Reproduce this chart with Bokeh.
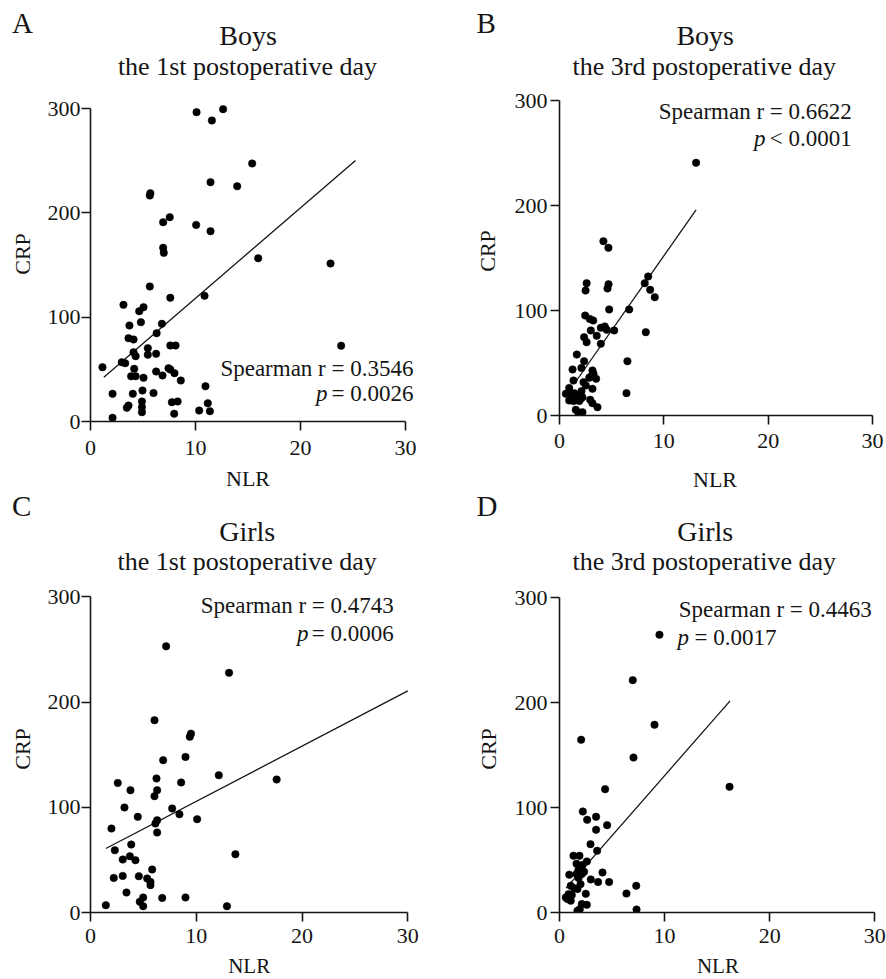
import numpy as np
from bokeh.plotting import figure
from bokeh.models import Range1d, FixedTicker, Label
from bokeh.layouts import row, column
from bokeh.embed import file_html
from bokeh.resources import INLINE

# ---------------- data ----------------
x_ticks = [0, 10, 20, 30]
y_ticks = [0, 100, 200, 300]

# A: Boys, 1st postoperative day
a_nlr = [1.14, 2.1, 2.1, 3.14, 2.98, 3.3, 3.71, 3.62, 4.1, 4.1, 4.3, 4.16, 3.87, 4.3, 4.03,
         3.62, 3.46, 4.64, 5.05, 4.8, 5.05, 4.95, 4.9, 4.9, 4.9, 5.46, 5.46, 5.65, 5.65, 5.7,
         6.0, 6.25, 6.25, 6.3, 6.8, 6.86, 6.92, 6.92, 6.98, 7.55, 7.6, 7.6, 8.1, 7.43, 7.6,
         8.0, 8.6, 7.75, 8.3, 7.97, 10.1, 10.06, 10.35, 10.86, 10.95, 11.17, 11.37, 11.43,
         11.43, 11.56, 12.63, 13.97, 15.4, 15.97, 22.86, 23.87]
a_crp = [52, 26.5, 3.5, 111.8, 56.8, 55.9, 92, 79.9, 78.6, 66.4, 62.6, 50.5, 43.4, 43.4, 26.5,
         15.3, 13.1, 105.7, 109.6, 95.2, 41.9, 29.7, 19.2, 13.7, 8.9, 70.3, 64, 129.4, 216.6, 218.8,
         27.2, 64.9, 47.9, 84.7, 93.6, 44.1, 191, 166.5, 161.7, 195.8, 118.6, 72.8, 72.8, 51, 49.8,
         46.3, 39.3, 18.5, 19.2, 7.4, 296.5, 188.4, 10.5, 120.5, 33.8, 17.5, 9.9, 229.4,
         182.4, 288.5, 299.4, 225.5, 247.3, 156.5, 151.4, 72.6]
a_fit_x = [1.27, 25.24]
a_fit_y = [42.5, 250.2]

# B: Boys, 3rd postoperative day
b_nlr = [13.09, 4.21, 4.69, 2.6, 2.5, 4.7, 4.6, 8.5, 8.17, 8.69, 9.13, 4.76, 6.68, 2.46, 2.9,
         3.23, 3.0, 3.96, 4.34, 4.53, 5.24, 3.57, 2.36, 2.6, 3.96, 8.27, 6.51, 6.42, 1.66, 2.36,
         2.1, 1.25, 3.16, 3.26, 3.0, 2.85, 1.34, 2.3, 2.52, 3.16, 0.93, 0.61, 1.03, 1.41, 1.66,
         2.1, 2.2, 0.93, 1.34, 1.89, 2.04, 2.94, 3.16, 3.64, 1.56, 1.79, 2.2, 3.51]
b_crp = [240.7, 166, 159.7, 126, 119, 125, 121, 132.4, 126, 119.7, 112.7, 101, 101, 95.2, 92,
         90.5, 81, 83.5, 84.8, 81.6, 81, 76, 74.6, 69.8, 68.3, 79.4, 51.7, 21.3, 58, 51.7,
         45.3, 43.8, 42.9, 39.7, 37.1, 35.9, 33.3, 31.7, 28.6, 25.4, 26.3, 20.7, 20, 21.3, 18.1,
         23.2, 17.4, 14.3, 13.7, 13.7, 15.9, 15, 11.7, 7.9, 5.4, 3.1, 3.1, 34.9]
b_fit_x = [1.4, 13.09]
b_fit_y = [30.0, 195.9]

# C: Girls, 1st postoperative day
c_nlr = [7.15, 13.1, 6.05, 9.5, 9.39, 8.98, 6.87, 12.13, 6.24, 17.6, 2.58, 8.57, 6.3, 6.05,
         3.78, 3.21, 7.72, 4.47, 10.08, 6.3, 6.14, 8.41, 6.3, 1.98, 3.85, 2.3, 13.7, 3.05, 3.72,
         4.25, 5.83, 2.2, 3.05, 4.57, 5.36, 5.67, 5.67, 3.4, 6.78, 8.98, 4.98, 4.66, 4.98, 1.45, 12.9]
c_crp = [253, 227.8, 182.8, 170, 167, 147.9, 144.8, 130.5, 127.4, 126.4, 123.2, 123.6, 116.3, 110.6,
         116.3, 99.8, 98.9, 90.9, 88.7, 87.7, 84.6, 93.4, 76, 79.8, 64.6, 59.2, 55.4, 50.4, 53.5,
         49.7, 40.9, 32.9, 34.8, 34.5, 32.3, 29.1, 26, 19, 13.9, 14.3, 14.3, 10.1, 6, 6.9, 6]
c_fit_x = [1.45, 30.0]
c_fit_y = [60.8, 210.6]

# D: Girls, 3rd postoperative day
d_nlr = [9.51, 6.97, 9.04, 2.06, 7.04, 4.34, 16.18, 2.22, 2.63, 3.48, 3.48, 4.53, 2.95, 3.58,
         1.33, 1.9, 2.6, 1.62, 2.19, 1.8, 2.34, 0.93, 1.62, 2.12, 4.09, 2.98, 3.67, 4.72, 1.81,
         2.0, 1.07, 1.39, 1.71, 7.3, 6.37, 2.5, 0.86, 1.17, 0.76, 1.07, 0.6, 2.12, 2.6, 1.93,
         1.71, 7.33]
d_crp = [264.5, 221.3, 178.8, 164.5, 147.6, 117.5, 119.7, 96.2, 88.3, 91.1, 78.8, 83.2, 65.1, 58.8,
         54, 54, 48.6, 46.5, 45.2, 40.5, 38.8, 36, 36.6, 36.6, 38.1, 31.5, 29, 29, 32.8,
         27, 25.4, 23.2, 22.3, 25.4, 18, 17.8, 17.5, 16.6, 12.8, 11.2, 14.3, 8, 7.3, 3.2,
         1.6, 2.8]
d_fit_x = [0.63, 16.23]
d_fit_y = [23.2, 201.6]

letters = ["A", "B", "C", "D"]
groups = ["Boys", "Boys", "Girls", "Girls"]
days = ["the 1st postoperative day", "the 3rd postoperative day",
        "the 1st postoperative day", "the 3rd postoperative day"]
r_texts = ["Spearman r = 0.3546", "Spearman r = 0.6622", "Spearman r = 0.4743", "Spearman r = 0.4463"]
p_texts = ["= 0.0026", "< 0.0001", "= 0.0006", "= 0.0017"]
x_title = "NLR"
y_title = "CRP"

# ---------------- styling / layout (pixel positions in the page) ----------------
FONT = "Liberation Serif"
INK = "#151515"
PW = 443       # width of each panel
SHIFT = 0.37   # baseline correction of labels, in units of font size


def text_label(p, x, y, text, size, align="left", style="normal"):
    p.add_layout(Label(x=x, y=y, text=text, text_font=FONT, text_font_size=f"{size}px",
                       text_color=INK, text_align=align, text_baseline="alphabetic",
                       text_font_style=style))


def make_strip(sx0, sy0, h, items):
    s = figure(width=PW, height=h, x_range=Range1d(0, PW), y_range=Range1d(h, 0),
               output_backend="svg", toolbar_location=None,
               x_axis_location=None, y_axis_location=None,
               min_border_left=0, min_border_right=0, min_border_top=0, min_border_bottom=0)
    s.outline_line_color = None
    s.grid.visible = False
    for (ax_, ay_, text, size, align, style) in items:
        text_label(s, ax_ - sx0, ay_ - sy0 - SHIFT * size, text, size, align, style)
    return s


def make_main(i, bx, top, H, frame, L, data, r_pos, p_pos, xstand, ystand, ylab):
    x0, x30, y0, y300 = frame
    sx = (x30 - x0) / 30.0
    sy = (y0 - y300) / 300.0
    R = PW - 2
    B = int(round(y0 - top))
    xr = Range1d(0, (R - L) / sx)
    yr = Range1d(0, B / sy)

    p = figure(width=PW, height=H, x_range=xr, y_range=yr,
               output_backend="svg", toolbar_location=None,
               min_border_left=L, min_border_right=PW - R,
               min_border_top=0, min_border_bottom=H - B)
    p.outline_line_color = None
    p.grid.visible = False

    for ax, ticks, bnd in ((p.xaxis[0], x_ticks, (0, 30)), (p.yaxis[0], y_ticks, (0, 300))):
        ax.ticker = FixedTicker(ticks=ticks)
        ax.bounds = bnd
        ax.axis_line_width = 1.6
        ax.axis_line_color = INK
        ax.major_tick_line_width = 1.6
        ax.major_tick_line_color = INK
        ax.major_tick_out = 9
        ax.major_tick_in = 0
        ax.minor_tick_line_color = None
        ax.major_label_text_font = FONT
        ax.major_label_text_font_size = "22px"
        ax.major_label_text_color = INK
        ax.axis_label_text_font = FONT
        ax.axis_label_text_font_size = "22px"
        ax.axis_label_text_font_style = "normal"
        ax.axis_label_text_color = INK
    p.yaxis[0].axis_label = y_title
    p.xaxis[0].major_label_standoff = int(xstand)
    p.yaxis[0].major_label_standoff = int(ystand)
    p.yaxis[0].axis_label_standoff = int(ylab)

    nlr, crp, fx, fy = data
    p.line(fx, fy, line_width=1.3, line_color=INK)
    p.scatter(nlr, crp, size=7.5, fill_color="black", line_color="black", line_width=0.5)

    def dx(px):
        return (px - bx - L) / sx

    def dy(py, size):
        return (top + B - (py - SHIFT * size)) / sy

    fs = 23
    rx, ry = r_pos
    text_label(p, dx(rx), dy(ry, fs), r_texts[i], fs, "right")
    ppx, ppy, restx, pal = p_pos
    if pal == "right":
        text_label(p, dx(ppx), dy(ppy, fs), "p", fs, "right", "italic")
        text_label(p, dx(rx), dy(ppy, fs), p_texts[i], fs, "right")
    else:
        text_label(p, dx(ppx), dy(ppy, fs), "p", fs, "left", "italic")
        text_label(p, dx(restx), dy(ppy, fs), p_texts[i], fs, "left")
    return p


N = "normal"
# row 1: headings of A and B
head_a = make_strip(0, 0, 86, [(11.5, 33.3, letters[0], 29, "left", N),
                               (247.5, 45, groups[0], 28, "center", N),
                               (247, 76, days[0], 26, "center", N)])
head_b = make_strip(443, 0, 86, [(476, 33.3, letters[1], 29, "left", N),
                                 (704.7, 45, groups[1], 28, "center", N),
                                 (703.8, 76, days[1], 26, "center", N)])
# row 2: plots A and B
main_a = make_main(0, 0, 86, 380, (90, 405, 421, 108), 90, (a_nlr, a_crp, a_fit_x, a_fit_y),
                   (413, 376.5), (327, 401.7, None, "right"), 10, 1, 10)
main_b = make_main(1, 443, 86, 374, (558, 871, 415, 100), 116, (b_nlr, b_crp, b_fit_x, b_fit_y),
                   (851.3, 120), (765, 147, None, "right"), 9, 3, 12)
# row 3: x titles of A/B, headings of C and D
head_c = make_strip(0, 466, 119, [(247.5, 486.5, x_title, 22, "center", N),
                                  (11.5, 516.5, letters[2], 29, "left", N),
                                  (246.7, 541.7, groups[2], 28, "center", N),
                                  (246.7, 570.7, days[2], 26, "center", N)])
head_d = make_strip(443, 466, 119, [(714.5, 487, x_title, 22, "center", N),
                                    (476, 516.5, letters[3], 29, "left", N),
                                    (704.7, 541.7, groups[3], 28, "center", N),
                                    (703.8, 570.7, days[3], 26, "center", N)])
# row 4: plots C and D
main_c = make_main(2, 0, 585, 369, (90, 407.3, 912.3, 596.7), 90, (c_nlr, c_crp, c_fit_x, c_fit_y),
                   (393.3, 614), (308, 641.7, None, "right"), 7, 1, 10)
main_d = make_main(3, 443, 585, 369, (559.7, 875, 911.7, 596.7), 116, (d_nlr, d_crp, d_fit_x, d_fit_y),
                   (871.3, 617.3), (677, 645.7, 694, "left"), 7, 3, 11)
# row 5: x titles of C/D
foot_c = make_strip(0, 954, 25, [(248.7, 973.5, x_title, 21, "center", N)])
foot_d = make_strip(443, 954, 25, [(717.4, 973.5, x_title, 21, "center", N)])

layout = column(row(head_a, head_b), row(main_a, main_b), row(head_c, head_d),
                row(main_c, main_d), row(foot_c, foot_d))

open("out.html", "w").write(file_html(layout, INLINE))
